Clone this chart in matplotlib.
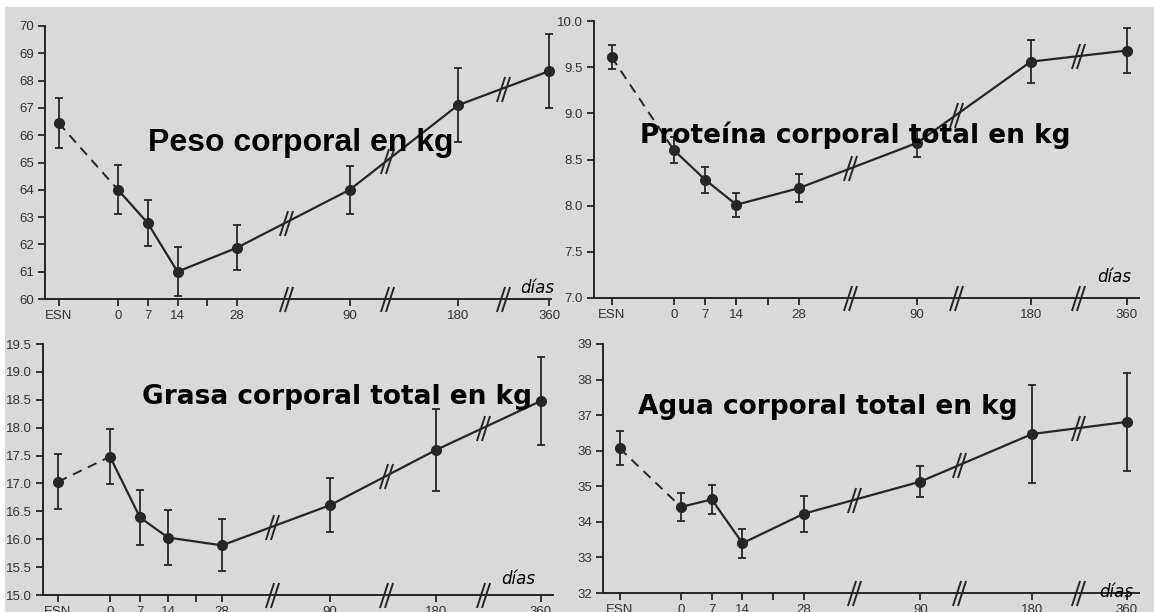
import numpy as np
import matplotlib.pyplot as plt
from matplotlib.path import Path
from matplotlib.patches import Rectangle

# Días de control (ESN = estado sin nutrición previa)
days = ['ESN', '0', '7', '14', '28', '90', '180', '360']

peso = [66.45, 64.0, 62.78, 61.0, 61.88, 64.0, 67.1, 68.35]
peso_err = [0.93, 0.9, 0.83, 0.9, 0.83, 0.88, 1.35, 1.35]

proteina = [9.61, 8.60, 8.28, 8.01, 8.19, 8.68, 9.56, 9.68]
proteina_err = [0.13, 0.14, 0.14, 0.13, 0.155, 0.15, 0.23, 0.24]

grasa = [17.03, 17.48, 16.39, 16.03, 15.89, 16.61, 17.60, 18.48]
grasa_err = [0.495, 0.49, 0.485, 0.485, 0.465, 0.48, 0.735, 0.785]

agua = [36.07, 34.42, 34.63, 33.40, 34.23, 35.13, 36.47, 36.81]
agua_err = [0.485, 0.39, 0.405, 0.41, 0.505, 0.445, 1.38, 1.38]

# eje x comprimido: posiciones de cada día y de los cortes //
x_pos = [-14, 0, 7, 14, 28, 54.5, 80, 101.5]
x_minor = 21
x_breaks = [39.5, 63.3, 90.5]
x_pos_grasa = [-13, 0, 7.5, 14.5, 28, 55, 81.5, 107.75]
x_minor_grasa = 21.5
x_breaks_grasa = [40.5, 69, 93.25]

W, H = 1154, 612
INK = '#262626'
BG = '#d9d9d9'

fig = plt.figure(figsize=(W / 100, H / 100), dpi=100, facecolor='white')
fig.patches.append(Rectangle((5 / W, 0), 1, 1 - 7 / H, transform=fig.transFigure,
                             facecolor=BG, edgecolor='none', zorder=-10))

# marcador "//" para los cortes de escala
brk = Path([(-0.525, -1), (0.125, 1), (-0.125, -1), (0.525, 1)],
           [Path.MOVETO, Path.LINETO, Path.MOVETO, Path.LINETO])


def panel(px, vals, errs, ylim, yticks, yfmt, pos, minor, breaks,
          title, title_xy, title_font, dias_xy):
    left, p0, s, right, ybot, ytop = px
    xlim = ((left - p0) / s, (right - p0) / s)
    ax = fig.add_axes([left / W, 1 - ybot / H, (right - left) / W, (ybot - ytop) / H])
    ax.set_facecolor('none')
    ax.set_xlim(xlim)
    ax.set_ylim(ylim)
    for sp in ['top', 'right']:
        ax.spines[sp].set_visible(False)
    for sp in ['left', 'bottom']:
        ax.spines[sp].set_color(INK)
        ax.spines[sp].set_linewidth(1.4)

    ax.set_xticks(sorted(pos + [minor]))
    ax.set_xticklabels([d for d in days[:4]] + [''] + days[4:])
    ax.set_yticks(yticks)
    ax.set_yticklabels([yfmt.format(v) for v in yticks])
    ax.tick_params(direction='out', length=5, width=1.3, color=INK, pad=3,
                   labelsize=9.5, labelcolor='#333333')
    for lab in ax.get_xticklabels() + ax.get_yticklabels():
        lab.set_family('Liberation Sans')

    ax.plot(pos[:2], vals[:2], color=INK, lw=1.4, ls=(0, (5, 3.5)))
    ax.plot(pos[1:], vals[1:], color=INK, lw=1.6)
    ax.errorbar(pos, vals, yerr=errs, fmt='none', ecolor=INK, elinewidth=1.3,
                capsize=3, capthick=1.3, clip_on=False)
    ax.plot(pos, vals, 'o', color=INK, ms=7, clip_on=False)

    by = np.interp(breaks, pos, vals)
    ax.plot(breaks, by, ls='none', marker=brk, ms=18, mec=INK, mew=1.4, mfc='none')
    ax.plot(breaks, [0] * len(breaks), ls='none', marker=brk, ms=18, mec=INK,
            mew=1.4, mfc='none', transform=ax.get_xaxis_transform(), clip_on=False)

    fig.text(title_xy[0] / W, 1 - title_xy[1] / H, title, ha='center', va='center',
             color='black', **title_font)
    fig.text(dias_xy[0] / W, 1 - dias_xy[1] / H, 'días', ha='center', va='center',
             family='DejaVu Sans', style='italic', fontsize=12, color='black')
    return ax


arial_bold = dict(family='Liberation Sans', weight='bold', fontsize=23)
sans_bold = dict(family='DejaVu Sans', weight='bold', fontsize=19)

panel((45, 118, 4.25, 551, 299, 26), peso, peso_err, (60, 70),
      list(range(60, 71)), '{:d}', x_pos, x_minor, x_breaks,
      'Peso corporal en kg', (301, 143), arial_bold, (537, 288))
panel((594, 674, 4.46, 1139, 298, 21), proteina, proteina_err, (7, 10),
      [7.0, 7.5, 8.0, 8.5, 9.0, 9.5, 10.0], '{:.1f}', x_pos, x_minor, x_breaks,
      'Proteína corporal total en kg', (855, 135), sans_bold, (1114, 277))
panel((43, 110, 4.0, 553, 595, 344), grasa, grasa_err, (15, 19.5),
      list(np.arange(15.0, 19.51, 0.5)), '{:.1f}', x_pos_grasa, x_minor_grasa,
      x_breaks_grasa, 'Grasa corporal total en kg', (337, 397), sans_bold, (518, 579))
panel((603, 681, 4.39, 1139, 593, 344), agua, agua_err, (32, 39),
      list(range(32, 40)), '{:d}', x_pos, x_minor, x_breaks,
      'Agua corporal total en kg', (828, 407), sans_bold, (1116, 592))

fig.savefig('out.png', dpi=100, facecolor='white')
